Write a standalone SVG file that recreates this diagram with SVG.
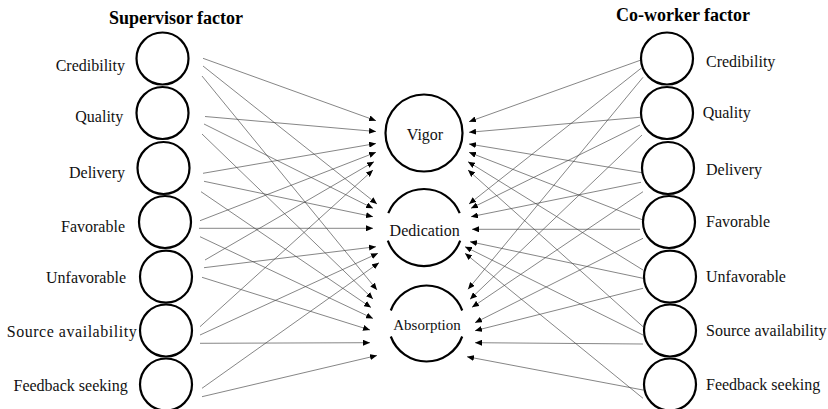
<svg xmlns="http://www.w3.org/2000/svg" width="828" height="409" viewBox="0 0 828 409">
<style>
.bg{fill:#fff}
.node{fill:none;stroke:#000;stroke-width:2.2}
.lbl{font-family:"Liberation Serif","Times New Roman",serif;font-size:16px;fill:#111}
.ttl{font-family:"Liberation Serif","Times New Roman",serif;font-size:18px;font-weight:bold;fill:#000}
.cx{fill:none;stroke:#444;stroke-width:0.65}
</style>
<defs>
<marker id="ah" markerWidth="8" markerHeight="6" refX="7" refY="3" orient="auto" markerUnits="userSpaceOnUse">
<path d="M0,0 L7,3 L0,6 z" fill="#000"/>
</marker>
</defs>
<rect class="bg" x="0" y="0" width="828" height="409"/>
<text class="ttl" x="176" y="23.5" text-anchor="middle">Supervisor factor</text>
<text class="ttl" x="683" y="20.5" text-anchor="middle">Co-worker factor</text>

<g id="connectors">
<g class="cx" marker-end="url(#ah)">
<line x1="203" y1="58.3" x2="376" y2="120.7"/>
<line x1="203" y1="66" x2="377" y2="204"/>
<line x1="202" y1="76" x2="377" y2="290"/>
<line x1="205" y1="116.5" x2="376" y2="131.5"/>
<line x1="204" y1="124" x2="373" y2="208.3"/>
<line x1="202" y1="134" x2="373" y2="299"/>
<line x1="203" y1="173.3" x2="376" y2="143.5"/>
<line x1="204" y1="181.3" x2="373" y2="216.7"/>
<line x1="201" y1="191.7" x2="371" y2="307.5"/>
<line x1="200" y1="220.7" x2="376" y2="152.3"/>
<line x1="199" y1="228.3" x2="373" y2="228.3"/>
<line x1="200" y1="236.7" x2="373" y2="318.5"/>
<line x1="205" y1="260" x2="374" y2="161.7"/>
<line x1="204" y1="267.7" x2="376" y2="246.7"/>
<line x1="202" y1="277.3" x2="370" y2="330"/>
<line x1="200" y1="326.7" x2="373" y2="170"/>
<line x1="200" y1="335" x2="378" y2="253.3"/>
<line x1="200" y1="343.3" x2="370" y2="342.7"/>
<line x1="202" y1="388.3" x2="379" y2="262.7"/>
<line x1="202" y1="396.7" x2="377" y2="355.5"/>

<line x1="641" y1="60" x2="469" y2="121.7"/>
<line x1="641" y1="68.3" x2="469" y2="204"/>
<line x1="643" y1="77.3" x2="468" y2="289.3"/>
<line x1="640" y1="117.3" x2="469" y2="132.3"/>
<line x1="640" y1="125" x2="471" y2="208.3"/>
<line x1="642" y1="135" x2="470" y2="299.3"/>
<line x1="642" y1="172.7" x2="469" y2="144"/>
<line x1="641" y1="182.3" x2="471" y2="216.7"/>
<line x1="643" y1="191.7" x2="472" y2="307.3"/>
<line x1="643" y1="220" x2="469" y2="152.3"/>
<line x1="640" y1="229.3" x2="472" y2="229.3"/>
<line x1="643" y1="238.3" x2="475" y2="322.7"/>
<line x1="643" y1="270" x2="468" y2="161.7"/>
<line x1="643" y1="278.3" x2="470" y2="241.7"/>
<line x1="643" y1="288.3" x2="475" y2="330.7"/>
<line x1="643" y1="326.7" x2="468" y2="170"/>
<line x1="643" y1="335" x2="465" y2="246.7"/>
<line x1="643" y1="344" x2="475" y2="342.7"/>
<line x1="643" y1="398.3" x2="465" y2="253.3"/>
<line x1="643" y1="390" x2="467" y2="356.7"/>
</g>
</g>

<g id="s-credibility"><circle class="node" cx="162.5" cy="58.5" r="26"/><text class="lbl" x="125" y="70.5" text-anchor="end">Credibility</text></g>
<g id="s-quality"><circle class="node" cx="162.5" cy="113" r="26"/><text class="lbl" x="123.3" y="121.5" text-anchor="end">Quality</text></g>
<g id="s-delivery"><circle class="node" cx="163.5" cy="168" r="26"/><text class="lbl" x="125" y="178" text-anchor="end">Delivery</text></g>
<g id="s-favorable"><circle class="node" cx="165" cy="222" r="26"/><text class="lbl" x="125" y="232" text-anchor="end">Favorable</text></g>
<g id="s-unfavorable"><circle class="node" cx="166" cy="276.7" r="26"/><text class="lbl" x="126" y="283.3" text-anchor="end">Unfavorable</text></g>
<g id="s-source"><circle class="node" cx="166" cy="330.5" r="26"/><text class="lbl" x="136.7" y="337.3" text-anchor="end" textLength="130" lengthAdjust="spacing">Source availability</text></g>
<g id="s-feedback"><circle class="node" cx="166" cy="384.5" r="26"/><text class="lbl" x="127.7" y="390.7" text-anchor="end">Feedback seeking</text></g>

<g id="vigor"><circle class="node" cx="424" cy="133" r="38.5"/><text class="lbl" x="425" y="140" text-anchor="middle">Vigor</text></g>
<g id="dedication"><path class="node" d="M388.3,213.1 A38.5,38.5 0 0 1 459.7,213.1 M460.2,240.7 A38.5,38.5 0 0 1 387.8,240.7"/><text class="lbl" x="424.7" y="235.7" text-anchor="middle">Dedication</text></g>
<g id="absorption"><path class="node" d="M390.8,310.5 A38,38 0 0 1 462.2,310.5 M462.2,336.5 A38,38 0 0 1 390.8,336.5"/><text class="lbl" x="427" y="330" text-anchor="middle" style="font-size:15px">Absorption</text></g>

<g id="c-credibility"><circle class="node" cx="667" cy="58.5" r="26"/><text class="lbl" x="706" y="66.7">Credibility</text></g>
<g id="c-quality"><circle class="node" cx="667" cy="113" r="26"/><text class="lbl" x="702.7" y="118.3">Quality</text></g>
<g id="c-delivery"><circle class="node" cx="668" cy="168" r="26"/><text class="lbl" x="706" y="175">Delivery</text></g>
<g id="c-favorable"><circle class="node" cx="669" cy="222" r="26"/><text class="lbl" x="706" y="227">Favorable</text></g>
<g id="c-unfavorable"><circle class="node" cx="670" cy="276.7" r="26"/><text class="lbl" x="706" y="281.7">Unfavorable</text></g>
<g id="c-source"><circle class="node" cx="670" cy="330.5" r="26"/><text class="lbl" x="706" y="336">Source availability</text></g>
<g id="c-feedback"><circle class="node" cx="670" cy="384.5" r="26"/><text class="lbl" x="706" y="390">Feedback seeking</text></g>
</svg>
